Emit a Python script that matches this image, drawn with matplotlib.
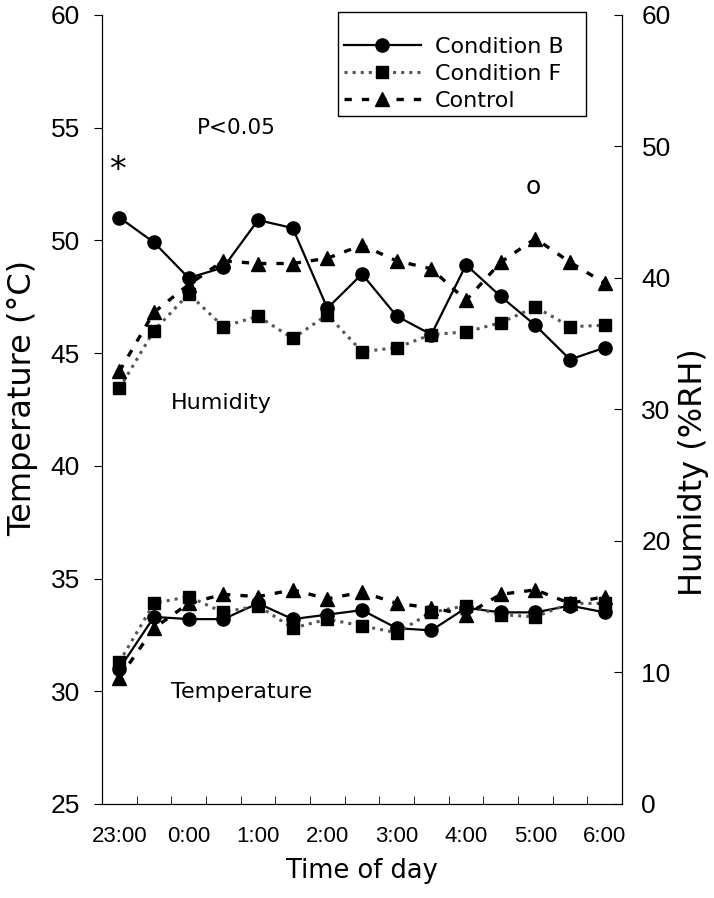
import matplotlib
matplotlib.use("Agg")
import matplotlib.pyplot as plt
import numpy as np

plt.rcParams['font.family'] = ['DejaVu Sans']

# half-hour steps from 23:00 to 6:00
times = ['23:00', '23:30', '0:00', '0:30', '1:00', '1:30', '2:00', '2:30',
         '3:00', '3:30', '4:00', '4:30', '5:00', '5:30', '6:00']
tick_labels = ['23:00', '0:00', '1:00', '2:00', '3:00', '4:00', '5:00', '6:00']

# humidity (%RH), right axis
hum_b = [44.6, 42.7, 40.0, 40.8, 44.4, 43.8, 37.7, 40.3, 37.1, 35.7, 41.0, 38.6, 36.4, 33.8, 34.7]
hum_f = [31.6, 36.0, 38.8, 36.3, 37.1, 35.4, 37.2, 34.4, 34.7, 35.7, 35.9, 36.6, 37.8, 36.3, 36.4]
hum_c = [32.9, 37.4, 39.5, 41.3, 41.1, 41.1, 41.5, 42.5, 41.3, 40.7, 38.3, 41.2, 43.0, 41.2, 39.6]

# temperature (deg C), left axis
temp_b = [31.0, 33.3, 33.2, 33.2, 33.9, 33.2, 33.4, 33.6, 32.8, 32.7, 33.7, 33.5, 33.5, 33.8, 33.5]
temp_f = [31.3, 33.9, 34.2, 33.5, 33.8, 32.8, 33.2, 32.9, 32.6, 33.5, 33.8, 33.4, 33.3, 33.9, 33.9]
temp_c = [30.6, 32.8, 33.9, 34.3, 34.2, 34.5, 34.1, 34.4, 33.9, 33.7, 33.4, 34.3, 34.5, 33.9, 34.2]

x = np.arange(len(times))

fig = plt.figure(figsize=(7.14, 8.98), dpi=100)
ax = fig.add_axes([0.1429, 0.1047, 0.7283, 0.8786])
ax2 = ax.twinx()

style_b = dict(color='black', linestyle='-', linewidth=1.6, marker='o', markersize=9.5)
style_f = dict(color='#555555', linestyle=':', linewidth=2.2, marker='s', markersize=9,
               markerfacecolor='black', markeredgecolor='black')
style_c = dict(color='black', linestyle=(0, (2.2, 3)), linewidth=2.4, marker='^', markersize=10.5)

lb, = ax.plot(x, temp_b, **style_b)
lf, = ax.plot(x, temp_f, **style_f)
lc, = ax.plot(x, temp_c, **style_c)
ax2.plot(x, hum_b, **style_b)
ax2.plot(x, hum_f, **style_f)
ax2.plot(x, hum_c, **style_c)

ax.set_xlim(-0.5, len(times) - 0.5)
ax.set_ylim(25, 60)
ax2.set_ylim(0, 60)
ax.set_yticks(np.arange(25, 61, 5))
ax2.set_yticks(np.arange(0, 61, 10))
ax.set_xticks(x[::2])
ax.set_xticklabels(tick_labels)
ax.set_xticks(np.arange(0.5, len(times) - 1, 1), minor=True)

tick_font = ['Liberation Sans']
ax.tick_params(axis='y', direction='out', length=6, labelsize=19, pad=10)
ax.tick_params(axis='x', which='major', length=0, labelsize=16, pad=16)
ax.tick_params(axis='x', which='minor', direction='in', length=6)
ax2.tick_params(axis='y', direction='in', length=6, labelsize=19, pad=14)
for lab in ax.get_xticklabels() + ax.get_yticklabels() + ax2.get_yticklabels():
    lab.set_family(tick_font)

for a in (ax, ax2):
    a.spines['top'].set_visible(False)

ax.set_xlabel('Time of day', fontsize=18.5, labelpad=8)
ax.set_ylabel('Temperature (\u00b0C)', fontsize=23)
ax2.set_ylabel('Humidty (%RH)', fontsize=23, rotation=90)
ax.yaxis.set_label_coords(-0.122, 0.515)
ax2.yaxis.set_label_coords(1.108, 0.42)

ax.text(2.24, 54.97, 'P<0.05', fontsize=15.5, ha='left', va='center')
ax.text(-0.05, 53.1, '*', fontsize=24, ha='center', va='center')
ax.text(11.95, 52.35, 'o', fontsize=18, ha='center', va='center')
ax.text(1.48, 42.8, 'Humidity', fontsize=16, ha='left', va='center')
ax.text(1.48, 29.95, 'Temperature', fontsize=16, ha='left', va='center')

leg = ax.legend([lb, lf, lc], ['Condition B', 'Condition F', 'Control'],
                loc='upper left', bbox_to_anchor=(0.4538, 0.8, 0.477, 0.2038),
                mode='expand', borderaxespad=0, title=' ', title_fontsize=9,
                fontsize=16, handlelength=3.5, handletextpad=0.6, borderpad=0.25,
                labelspacing=0.3, fancybox=False, framealpha=1, edgecolor='black')
leg.get_frame().set_linewidth(1.0)

fig.savefig('out.png', dpi=100)
